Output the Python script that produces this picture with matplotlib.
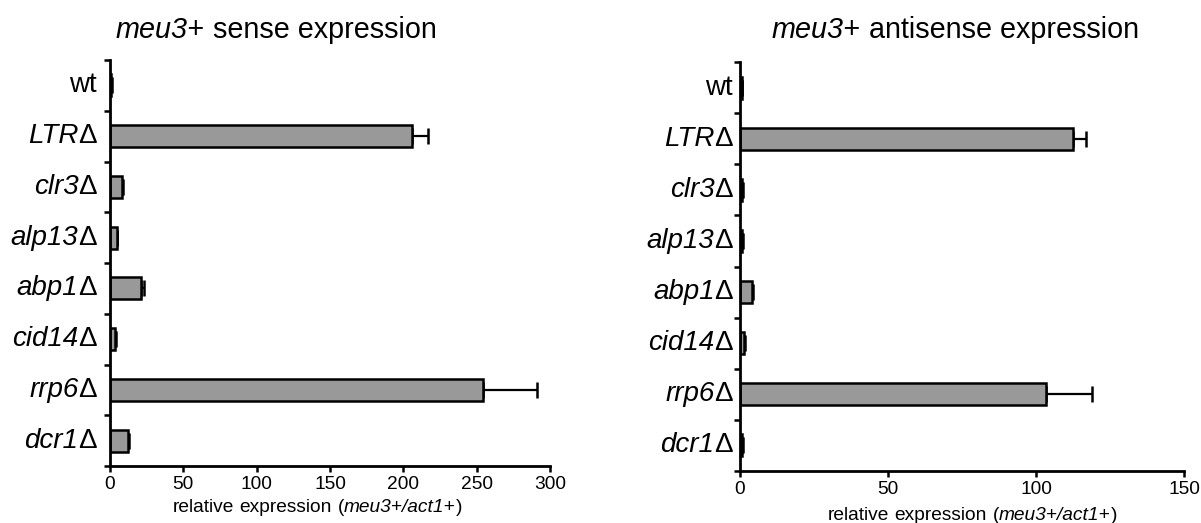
import numpy as np
import matplotlib
matplotlib.use("Agg")
import matplotlib.pyplot as plt

plt.rcParams['font.family'] = ['Liberation Sans', 'DejaVu Sans']

# strains (top to bottom)
strains = ['wt', 'LTR', 'clr3', 'alp13', 'abp1', 'cid14', 'rrp6', 'dcr1']

# meu3+ sense expression (relative to act1+)
sense = [1.0, 206, 8.5, 4.5, 21, 3.7, 254, 12]
sense_err = [0.3, 11, 0.5, 0.5, 2, 0.5, 37, 1]

# meu3+ antisense expression
antisense = [0.7, 112.6, 0.8, 0.8, 4.0, 1.5, 103.3, 0.8]
antisense_err = [0.1, 4.2, 0.1, 0.1, 0.3, 0.2, 15.5, 0.1]

sense_ticks = [0, 50, 100, 150, 200, 250, 300]
anti_ticks = [0, 50, 100, 150]

W, H = 1201, 523
fig = plt.figure(figsize=(W / 100, H / 100), dpi=100)
ax1 = fig.add_axes([110 / W, 1 - 466 / H, 440 / W, 406 / H])
ax2 = fig.add_axes([740 / W, 1 - 471 / H, 444 / W, 409 / H])


def mixed(x, y, pieces, size):
    # pieces: list of (text, italic) drawn left to right, starting at pixel x
    prev = None
    for txt, ital in pieces:
        style = 'italic' if ital else 'normal'
        lead = txt.startswith(' ')
        txt = txt.strip()
        off = 0.278 * size if lead else 0
        if prev is None:
            prev = fig.text(x / W, 1 - y / H, txt, fontsize=size, style=style,
                            ha='left', va='center')
        else:
            prev = fig.add_artist(plt.Annotation(
                txt, xy=(1, 0.5), xycoords=prev, xytext=(off, 0),
                textcoords='offset points', fontsize=size, style=style,
                ha='left', va='center'))


def draw(ax, vals, errs, ticks, gap):
    y = np.arange(len(strains))
    ax.barh(y, vals, height=0.43, color='#999999', edgecolor='black',
            linewidth=1.8, zorder=2)
    ax.errorbar(vals, y, xerr=[np.zeros(len(errs)), errs], fmt='none',
                ecolor='black', elinewidth=1.6, capsize=6, capthick=1.8,
                zorder=1)
    ax.set_ylim(len(strains) - 0.5, -0.5)
    ax.set_xlim(0, ticks[-1])
    ax.set_xticks(ticks)
    ax.set_yticks(y)
    ax.set_yticklabels([])
    ax.set_yticks(np.arange(-0.5, len(strains)), minor=True)
    ax.tick_params(axis='y', which='major', length=0)
    ax.tick_params(axis='y', which='minor', length=4, width=1.8, direction='out')
    ax.tick_params(axis='x', length=4, width=1.8, direction='out', labelsize=13.8, pad=3)
    for side in ['top', 'right']:
        ax.spines[side].set_visible(False)
    for side in ['left', 'bottom']:
        ax.spines[side].set_linewidth(2)
    # strain labels: italic gene name + upright delta
    for yi, s in zip(y, strains):
        if s == 'wt':
            ax.annotate('wt', xy=(0, yi), xycoords=('axes fraction', 'data'),
                        xytext=(-gap, 0), textcoords='offset points',
                        fontsize=20, ha='right', va='center')
            continue
        d = ax.annotate('\u0394', xy=(0, yi), xycoords=('axes fraction', 'data'),
                        xytext=(-gap, 0), textcoords='offset points',
                        fontsize=20, ha='right', va='center')
        ax.annotate(s, xy=(0, 0.5), xycoords=d, fontsize=20, style='italic',
                    ha='right', va='center')


draw(ax1, sense, sense_err, sense_ticks, 9.4)
draw(ax2, antisense, antisense_err, anti_ticks, 5.0)

mixed(116, 30, [('meu3+', True), (' sense expression', False)], 20.7)
mixed(772, 30, [('meu3+', True), (' antisense expression', False)], 20.7)

xl = [('relative expression (', False), ('meu3+/act1+', True), (')', False)]
mixed(173, 508, [('relative', False), (' expression', False), (' (', False),
                 ('meu3+/act1+', True), (')', False)], 13.8)
mixed(828, 515, [('relative', False), (' expression', False), (' (', False),
                 ('meu3+/act1+', True), (')', False)], 13.8)

plt.savefig('out.png', dpi=100)
